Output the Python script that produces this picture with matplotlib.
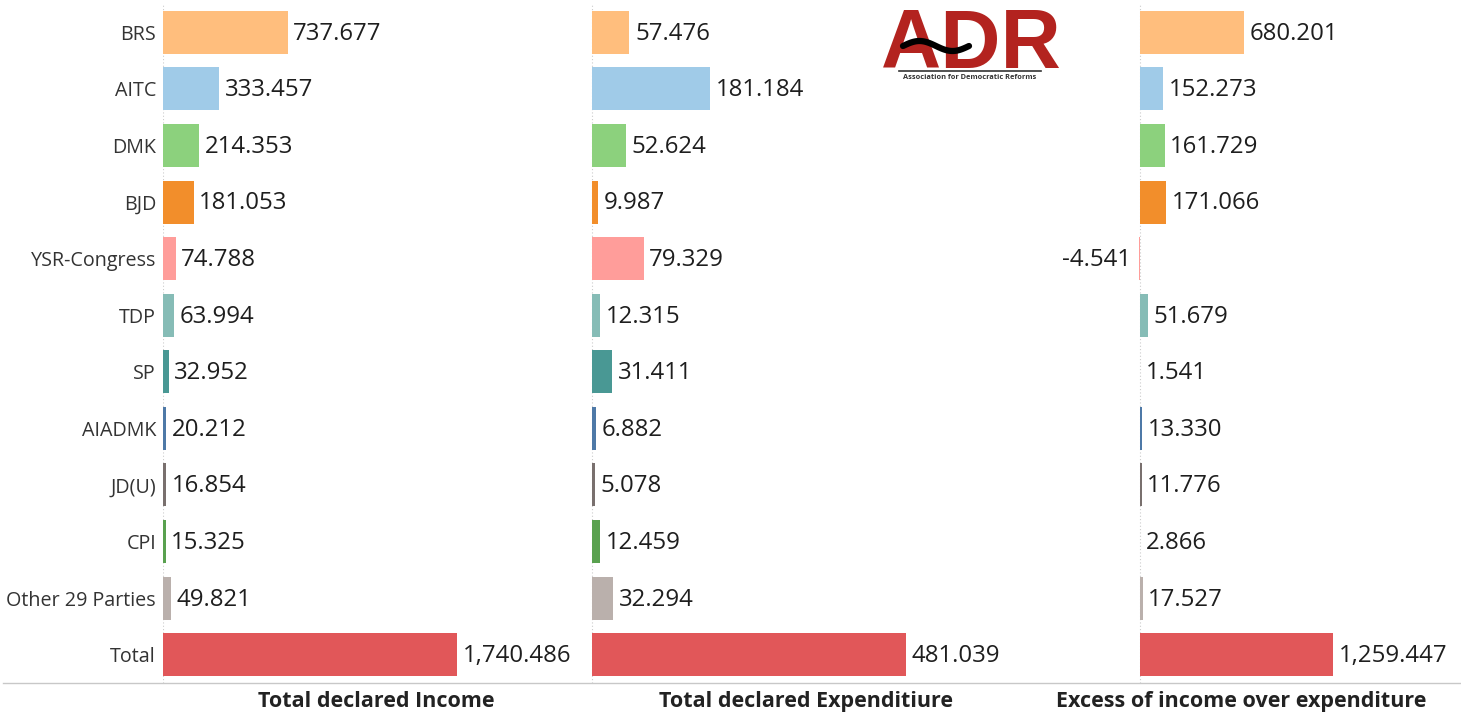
import numpy as np
import matplotlib
matplotlib.use("Agg")
import matplotlib.pyplot as plt
from matplotlib.lines import Line2D

categories = ["BRS", "AITC", "DMK", "BJD", "YSR-Congress", "TDP", "SP", "AIADMK",
              "JD(U)", "CPI", "Other 29 Parties", "Total"]
income = [737.677, 333.457, 214.353, 181.053, 74.788, 63.994, 32.952, 20.212,
          16.854, 15.325, 49.821, 1740.486]
expenditure = [57.476, 181.184, 52.624, 9.987, 79.329, 12.315, 31.411, 6.882,
               5.078, 12.459, 32.294, 481.039]
excess = [680.201, 152.273, 161.729, 171.066, -4.541, 51.679, 1.541, 13.330,
          11.776, 2.866, 17.527, 1259.447]
panel_titles = ["Total declared Income", "Total declared Expenditiure",
                "Excess of income over expenditure"]
colors = ["#FFBE7D", "#A0CBE8", "#8CD17D", "#F28E2B", "#FF9D9A", "#86BCB6",
          "#499894", "#4E79A7", "#79706E", "#59A14F", "#BAB0AC", "#E15759"]

W, H = 1461, 715
fig = plt.figure(figsize=(W / 100, H / 100), dpi=100)
plt.rcParams['font.family'] = ['Open Sans', 'DejaVu Sans']

top_px, bot_px = 4, 683
# (left px, right px, xmin, xmax)
panels = [(163, 590, 0, 2528), (590, 1022, -3, 659), (1022, 1461, -770, 2095)]
series = [income, expenditure, excess]

def fmt(v):
    return f"{v:,.3f}"

def fy(py):
    return (H - py) / H

y = np.arange(len(categories))
for i, ((l, r, xmin, xmax), vals, title) in enumerate(zip(panels, series, panel_titles)):
    ax = fig.add_axes([l / W, fy(bot_px), (r - l) / W, (bot_px - top_px) / H])
    ax.barh(y, vals, height=0.76, color=colors, zorder=2)
    ax.set_xlim(xmin, xmax)
    ax.set_ylim(len(categories) - 0.5, -0.5)
    ax.axvline(0, color="#cccccc", lw=0.8, ls=(0, (1, 2)), zorder=1)
    for yi, v in zip(y, vals):
        if v >= 0:
            ax.annotate(fmt(v), (v, yi), xytext=(4, -1), textcoords="offset points",
                        ha="left", va="center", fontsize=17.3, color="#1e1e1e")
        else:
            ax.annotate(fmt(v), (v, yi), xytext=(-6, -1), textcoords="offset points",
                        ha="right", va="center", fontsize=17.3, color="#1e1e1e")
    for s in ax.spines.values():
        s.set_visible(False)
    ax.set_xticks([])
    if i == 0:
        ax.set_yticks(y)
        ax.set_yticklabels(categories, fontsize=14.2, color="#333333")
        ax.tick_params(axis="y", length=0, pad=5)
    else:
        ax.set_yticks([])
    ax.set_xlabel(title, fontsize=15.5, fontweight="bold", color="#222222", labelpad=6)
    ax.patch.set_alpha(0)

# bottom separator line
fig.add_artist(Line2D([3 / W, 1], [fy(bot_px)] * 2, color="#c8c8c8", lw=1))

# ADR logo
fig.text(971 / W, fy(67.5), "ADR", fontsize=60, fontweight="bold", color="#B3231F",
         ha="center", va="baseline", family=["Liberation Sans", "DejaVu Sans"])
t = np.linspace(0, 1, 50)
sx = 903 + 66 * t
sy = 46 - 5 * np.sin(2 * np.pi * t)
fig.add_artist(Line2D(sx / W, fy(sy), color="black", lw=4.5, solid_capstyle="round",
                      zorder=10))
fig.add_artist(Line2D([899 / W, 1041 / W], [fy(70.5)] * 2, color="#333333", lw=1.2))
fig.text(970 / W, fy(77.5), "Association for Democratic Reforms", fontsize=5.3,
         fontweight="bold", color="#333333", ha="center", va="center")

fig.savefig("out.png", dpi=100, facecolor="white")
